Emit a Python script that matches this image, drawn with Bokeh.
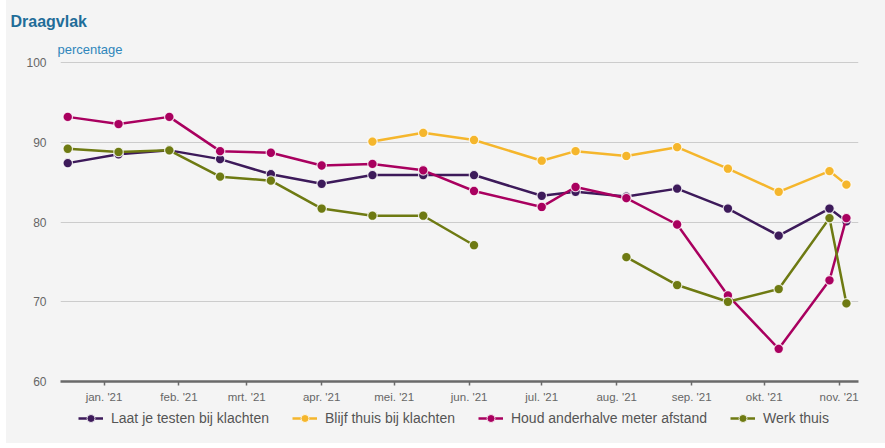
import pandas as pd
import numpy as np
from bokeh.plotting import figure
from bokeh.layouts import column
from bokeh.models import (ColumnDataSource, FixedTicker, Legend, LegendItem, Title, Range1d)
from bokeh.embed import file_html
from bokeh.resources import INLINE

dates = ["2020-12-17", "2021-01-07", "2021-01-28", "2021-02-18", "2021-03-11",
         "2021-04-01", "2021-04-22", "2021-05-13", "2021-06-03", "2021-07-01",
         "2021-07-15", "2021-08-05", "2021-08-26", "2021-09-16", "2021-10-07",
         "2021-10-28", "2021-11-04"]
nan = float("nan")
laat_testen = [87.4, 88.5, 89.0, 87.9, 86.0, 84.8, 85.9, 85.9, 85.9, 83.3,
               83.8, 83.2, 84.2, 81.7, 78.3, 81.7, 80.1]
blijf_thuis = [nan, nan, nan, nan, nan, nan, 90.1, 91.2, 90.3, 87.7,
               88.9, 88.3, 89.4, 86.7, 83.8, 86.4, 84.7]
houd_afstand = [93.2, 92.3, 93.2, 88.9, 88.7, 87.1, 87.3, 86.5, 83.9, 81.9,
                84.4, 83.0, 79.7, 70.8, 64.1, 72.7, 80.5]
werk_thuis = [89.2, 88.8, 89.0, 85.7, 85.2, 81.7, 80.8, 80.8, 77.1, nan,
              nan, 75.6, 72.1, 70.0, 71.6, 80.5, 69.8]

series_names = ["Laat je testen bij klachten", "Blijf thuis bij klachten",
                "Houd anderhalve meter afstand", "Werk thuis"]
series_values = [laat_testen, blijf_thuis, houd_afstand, werk_thuis]
series_colors = ["#3d1a5a", "#f5b62c", "#a9005f", "#6e7a12"]

tick_dates = ["2021-01-01", "2021-02-01", "2021-03-01", "2021-04-01", "2021-05-01",
              "2021-06-01", "2021-07-01", "2021-08-01", "2021-09-01", "2021-10-01",
              "2021-11-01"]
tick_labels = ["jan. '21", "feb. '21", "mrt. '21", "apr. '21", "mei. '21", "jun. '21",
               "jul. '21", "aug. '21", "sep. '21", "okt. '21", "nov. '21"]
y_ticks = [60, 70, 80, 90, 100]

BG = "#f4f4f4"
FONT = "Liberation Sans"

x = pd.to_datetime(dates)

p = figure(width=879, height=405, x_axis_type="datetime",
           output_backend="svg", toolbar_location=None,
           background_fill_color=BG, border_fill_color=BG,
           min_border_left=54, min_border_right=27, min_border_top=59,
           min_border_bottom=22)
p.outline_line_color = None

p.x_range = Range1d(pd.Timestamp("2020-12-14"), pd.Timestamp("2021-11-09"))
p.y_range = Range1d(60, 100.4)

for name, vals, col in zip(series_names, series_values, series_colors):
    src = ColumnDataSource(dict(x=x, y=np.array(vals, dtype=float)))
    p.line("x", "y", source=src, line_color=col, line_width=2.5)
    p.scatter("x", "y", source=src, size=9.5, fill_color=col,
              line_color="#ffffff", line_width=1.2, line_alpha=0.8)

tick_ms = [pd.Timestamp(d).value // 10**6 for d in tick_dates]
p.xaxis.ticker = FixedTicker(ticks=tick_ms)
p.xaxis.major_label_overrides = {float(t): lab for t, lab in zip(tick_ms, tick_labels)}
p.xaxis.minor_tick_line_color = None
p.xaxis.axis_line_color = "#6a6a6a"
p.xaxis.axis_line_width = 2.5
p.xaxis.major_tick_line_color = "#6a6a6a"
p.xaxis.major_tick_line_width = 1.5
p.xaxis.major_tick_out = 4
p.xaxis.major_tick_in = 0
p.xaxis.major_label_standoff = 5
p.xaxis.major_label_text_font = FONT
p.xaxis.major_label_text_font_size = "11.5px"
p.xaxis.major_label_text_color = "#666666"

p.yaxis.ticker = FixedTicker(ticks=y_ticks)
p.yaxis.axis_line_color = None
p.yaxis.major_tick_line_color = None
p.yaxis.minor_tick_line_color = None
p.yaxis.major_label_standoff = 8
p.yaxis.major_label_text_font = FONT
p.yaxis.major_label_text_font_size = "12px"
p.yaxis.major_label_text_color = "#666666"

p.xgrid.grid_line_color = None
p.ygrid.ticker = FixedTicker(ticks=[70, 80, 90, 100])
p.ygrid.grid_line_color = "#cccccc"
p.ygrid.grid_line_width = 1

sub = Title(text="percentage", align="left", offset=-3, standoff=5,
            text_font=FONT, text_font_size="13px", text_font_style="normal",
            text_color="#2f86bb")
main = Title(text="Draagvlak", align="left", offset=-50, standoff=15,
             text_font=FONT, text_font_size="16px", text_font_style="bold",
             text_color="#1f6d99")
p.add_layout(sub, "above")
p.add_layout(main, "above")

# legend strip (its frame is aligned with the chart frame by the column layout)
lf = figure(width=879, height=38, output_backend="svg", toolbar_location=None,
            background_fill_color=BG, border_fill_color=BG,
            x_axis_location=None, y_axis_location=None,
            min_border=0, x_range=(0, 1), y_range=(0, 1))
lf.outline_line_color = None
lf.grid.visible = False
items = []
for name, col in zip(series_names, series_colors):
    src = ColumnDataSource(dict(x=[nan], y=[nan]))
    l = lf.line("x", "y", source=src, line_color=col, line_width=2.5)
    c = lf.scatter("x", "y", source=src, size=8, fill_color=col,
                   line_color="#ffffff", line_width=1, line_alpha=0.8)
    items.append(LegendItem(label=name, renderers=[l, c]))
legend = Legend(items=items, orientation="horizontal", location=(18, 15),
                background_fill_alpha=0, border_line_color=None,
                label_text_font=FONT, label_text_font_size="14px",
                label_text_color="#555555", glyph_width=25, glyph_height=20,
                label_standoff=8, spacing=23, padding=2, margin=0)
lf.add_layout(legend, "center")

layout = column(p, lf, spacing=0, margin=(0, 0, 5, 6),
                styles={"background-color": BG})
open("out.html", "w").write(file_html(layout, INLINE))
